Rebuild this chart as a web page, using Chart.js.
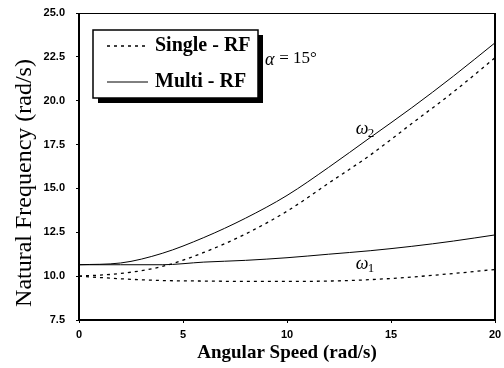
<!DOCTYPE html>
<html><head><meta charset="utf-8">
<script src="https://cdn.jsdelivr.net/npm/chart.js@4/dist/chart.umd.min.js"></script>
<style>html,body{margin:0;padding:0;background:#fff}#wrap{width:504px;height:368px}</style>
</head><body><div id="wrap"><canvas id="c" width="504" height="368"></canvas></div>
<script>
const speeds = [0, 2, 4, 6, 8, 10, 12, 14, 16, 18, 20];
const multiW2 = [10.65, 10.75, 11.3, 12.2, 13.3, 14.6, 16.2, 17.9, 19.6, 21.4, 23.3];
const singleW2 = [10.0, 10.15, 10.55, 11.35, 12.4, 13.7, 15.3, 16.9, 18.7, 20.5, 22.45];
const multiW1 = [10.65, 10.65, 10.65, 10.8, 10.9, 11.05, 11.25, 11.45, 11.7, 12.0, 12.35];
const singleW1 = [10.0, 9.85, 9.75, 9.72, 9.7, 9.7, 9.72, 9.8, 9.95, 10.15, 10.38];
const yTicks = [7.5, 10.0, 12.5, 15.0, 17.5, 20.0, 22.5, 25.0];
const xTicks = [0, 5, 10, 15, 20];
const legendLabels = ['Single - RF', 'Multi - RF'];
const xTitle = 'Angular Speed (rad/s)';
const yTitle = 'Natural Frequency (rad/s)';

const pts = (ys) => speeds.map((x, i) => ({x, y: ys[i]}));
const serif = '"Liberation Serif", "DejaVu Serif", serif';
const sans = '"Liberation Sans", Arial, sans-serif';

const mk = (label, ys, dashed) => ({
  label, data: pts(ys), borderColor: '#000', borderWidth: dashed ? 1.3 : 1,
  borderDash: dashed ? [3, 4] : [], pointRadius: 0, fill: false,
  cubicInterpolationMode: 'monotone'
});

// pin the plot area to the reference position
const AREA = { left: 79, right: 495, top: 13, bottom: 320 };
const fixArea = {
  id: 'fixArea',
  afterLayout(chart) {
    const {left: L, right: R, top: T, bottom: B} = AREA;
    chart.chartArea = { left: L, top: T, right: R, bottom: B, width: R - L, height: B - T };
    const x = chart.scales.x, y = chart.scales.y;
    Object.assign(x, { left: L, right: R, top: B, bottom: chart.height, width: R - L, height: chart.height - B });
    Object.assign(y, { left: 0, right: L, top: T, bottom: B, width: L, height: B - T });
    x.configure(); y.configure();
  }
};

const deco = {
  id: 'deco',
  afterDraw(chart) {
    const ctx = chart.ctx, a = chart.chartArea, xs = chart.scales.x, ys = chart.scales.y;
    ctx.save();
    // frame
    ctx.strokeStyle = '#000';
    ctx.lineWidth = 1;
    ctx.strokeRect(a.left + 0.5, a.top + 0.5, a.right - a.left - 1, a.bottom - a.top - 1);
    ctx.lineWidth = 2;
    ctx.beginPath();
    ctx.moveTo(a.left, a.top); ctx.lineTo(a.left, a.bottom); ctx.lineTo(a.right, a.bottom); ctx.lineTo(a.right, a.top);
    ctx.stroke();
    ctx.fillStyle = '#000';
    // y title (regular serif)
    ctx.save();
    ctx.translate(25, 183);
    ctx.rotate(-Math.PI / 2);
    ctx.font = '24px ' + serif;
    ctx.textAlign = 'center';
    ctx.textBaseline = 'middle';
    ctx.fillText(yTitle, 0, 0);
    ctx.restore();
    // x title
    ctx.font = 'bold 19px ' + serif;
    ctx.textAlign = 'center';
    ctx.textBaseline = 'middle';
    ctx.fillText(xTitle, (a.left + a.right) / 2, 353);
    // legend box with shadow
    const bx = 93, by = 30, bw = 165, bh = 68;
    ctx.fillRect(bx + 5, by + 5, bw, bh);
    ctx.fillStyle = '#fff';
    ctx.fillRect(bx, by, bw, bh);
    ctx.lineWidth = 1.5;
    ctx.strokeRect(bx, by, bw, bh);
    ctx.font = 'bold 20px ' + serif;
    ctx.textBaseline = 'middle';
    ctx.textAlign = 'left';
    ctx.fillStyle = '#000';
    const rows = [46, 82];
    legendLabels.forEach((lab, i) => {
      ctx.beginPath();
      ctx.lineWidth = i === 0 ? 1.3 : 1;
      ctx.setLineDash(i === 0 ? [3, 4] : []);
      ctx.moveTo(107, rows[i]); ctx.lineTo(148, rows[i]);
      ctx.stroke();
      ctx.setLineDash([]);
      ctx.fillText(lab, 155, rows[i]);
    });
    // alpha annotation
    ctx.font = 'italic 18px ' + serif;
    ctx.fillText('\u03B1', 265, 60);
    ctx.font = '17px ' + serif;
    ctx.fillText(' = 15\u00B0', 275, 59);
    // omega labels
    const omega = (sub, xv, yv) => {
      const px = xs.getPixelForValue(xv), py = ys.getPixelForValue(yv);
      ctx.font = 'italic 18px ' + serif;
      ctx.fillText('\u03C9', px, py);
      ctx.font = '13px ' + serif;
      ctx.fillText(sub, px + 12, py + 5);
    };
    omega('2', 13.3, 18.4);
    omega('1', 13.3, 10.7);
    ctx.restore();
  }
};

new Chart(document.getElementById('c'), {
  type: 'line',
  data: { datasets: [mk('Single ω2', singleW2, true), mk('Multi ω2', multiW2, false), mk('Single ω1', singleW1, true), mk('Multi ω1', multiW1, false)] },
  options: {
    responsive: false, animation: false, devicePixelRatio: 1,
    layout: { padding: { top: 13, right: 9, left: 0, bottom: 0 } },
    plugins: { legend: { display: false }, tooltip: { enabled: false } },
    scales: {
      x: {
        type: 'linear', min: 0, max: 20,
        afterBuildTicks: (s) => { s.ticks = xTicks.map(v => ({value: v})); },
        grid: { display: true, drawOnChartArea: false, tickLength: 3, color: '#000' },
        border: { display: false },
        ticks: { color: '#000', font: { family: sans, weight: 'bold', size: 11 }, padding: 5, maxRotation: 0,
          callback: (v) => String(v) },
        title: { display: false }
      },
      y: {
        type: 'linear', min: 7.5, max: 25,
        afterBuildTicks: (s) => { s.ticks = yTicks.map(v => ({value: v})); },
        grid: { display: true, drawOnChartArea: false, tickLength: 3, color: '#000' },
        border: { display: false },
        ticks: { color: '#000', font: { family: sans, weight: 'bold', size: 11 }, padding: 11,
          callback: (v) => Number(v).toFixed(1) },
        title: { display: false }
      }
    }
  },
  plugins: [fixArea, deco]
});
</script></body></html>
